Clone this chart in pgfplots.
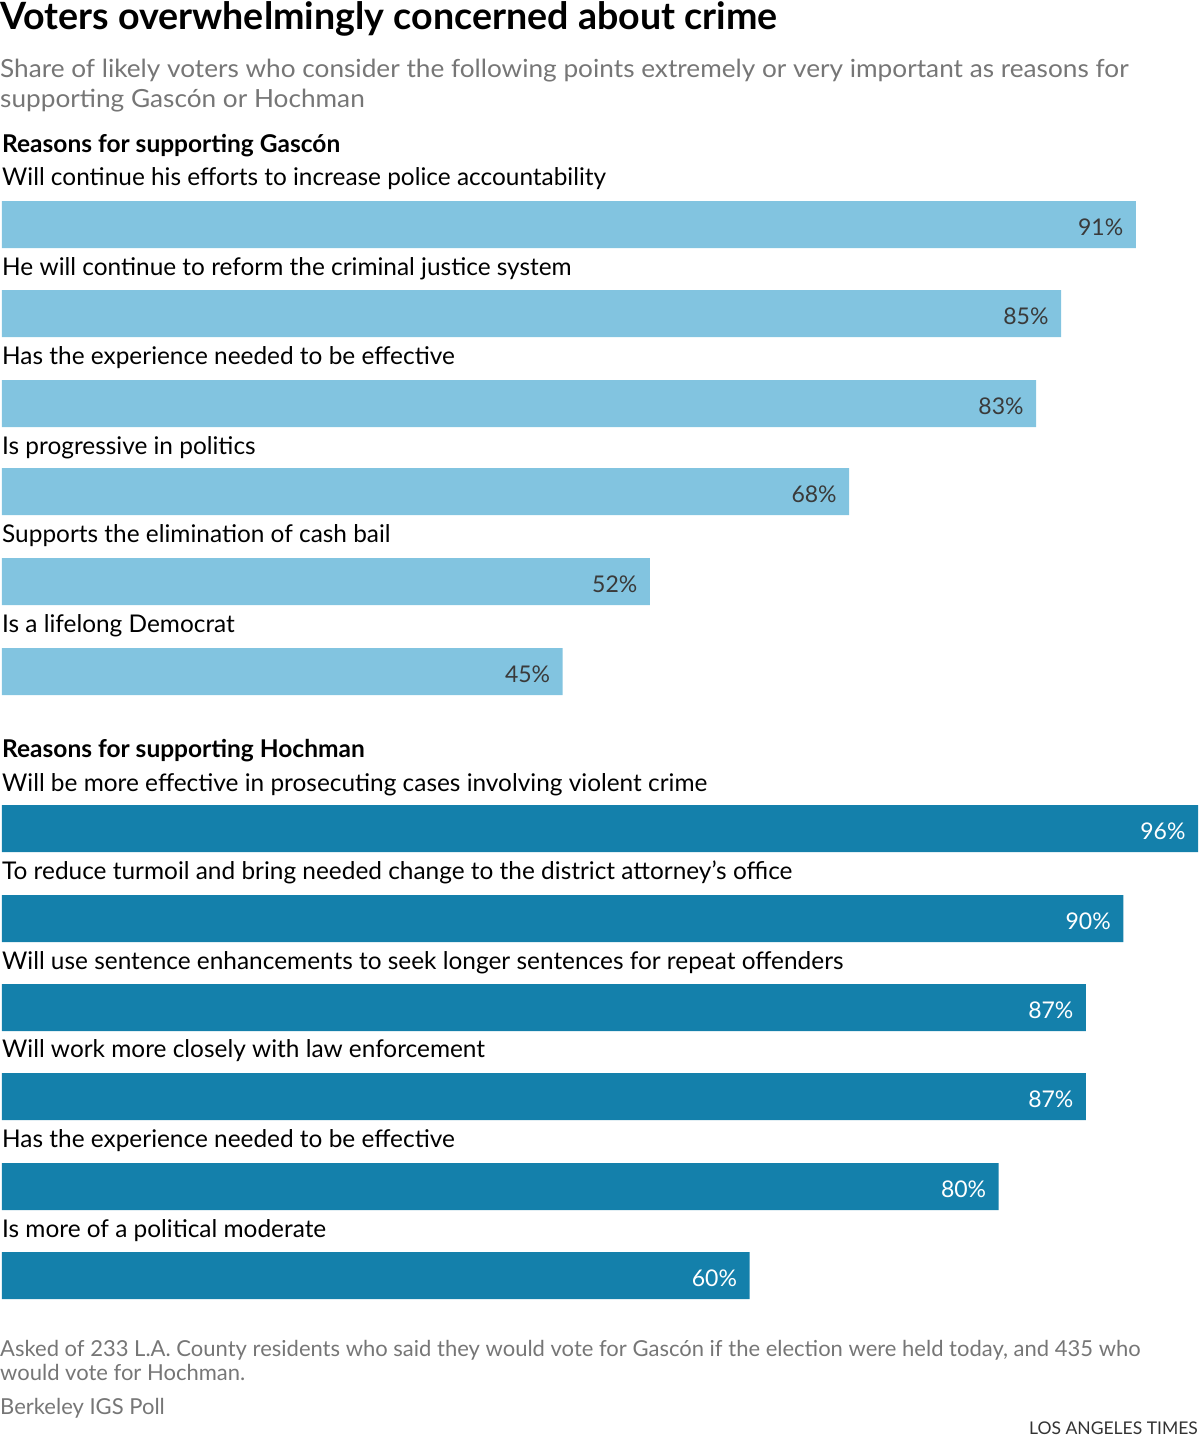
\documentclass[border=0pt]{standalone}
\usepackage{pgfplots}
\pgfplotsset{compat=1.18}
\usepackage{graphicx}
\usepackage{fontspec}
\setmainfont{Lato}
\definecolor{lightbar}{HTML}{82C4E0}
\definecolor{darkbar}{HTML}{1480AB}
\definecolor{subgray}{HTML}{767676}
\definecolor{valgray}{HTML}{3A3A3A}
\begin{document}
\begin{tikzpicture}
\begin{axis}[
  scale only axis, width=1200pt, height=1444pt,
  xmin=-0.1605, xmax=96.16, ymin=0, ymax=1444, y dir=reverse,
  axis lines=none, clip=false,
  xbar, bar width=47pt, bar shift=0pt,
  point meta=x,
  nodes near coords={\pgfmathprintnumber[assume math mode=true]{\pgfplotspointmeta}\%},
  every node near coord/.append style={anchor=east, xshift=-9pt, yshift=-2.5pt, font=\fontsize{23}{26}\selectfont},
]
\path (axis cs:-0.1605,0) rectangle (axis cs:96.16,1444);
\addplot[fill=lightbar, draw=none, nodes near coords style={text=valgray}] coordinates {
(91,224.5) (85,313.5) (83,403.5) (68,491.5) (52,581.5) (45,671.5)};
\addplot[fill=darkbar, draw=none, nodes near coords style={text=white}] coordinates {
(96,828.5) (90,918.5) (87,1007.5) (87,1096.5) (80,1186.5) (60,1275.5)};

% title & subtitle
\node[anchor=base west, inner sep=0pt] at (axis cs:-0.1605,29) {\fontsize{37.6}{42}\selectfont\bfseries Voters overwhelmingly concerned about crime};
\node[anchor=base west, inner sep=0pt, text=subgray] at (axis cs:-0.1605,77) {\scalebox{1.048}[1]{\fontsize{25}{28}\selectfont Share of likely voters who consider the following points extremely or very important as reasons for}};
\node[anchor=base west, inner sep=0pt, text=subgray] at (axis cs:-0.1605,107) {\scalebox{1.048}[1]{\fontsize{25}{28}\selectfont supporting Gascón or Hochman}};

% section headers
\node[anchor=base west, inner sep=0pt] at (axis cs:0,152) {\fontsize{24.5}{26}\selectfont\bfseries Reasons for supporting Gascón};
\node[anchor=base west, inner sep=0pt] at (axis cs:0,757) {\fontsize{24.5}{26}\selectfont\bfseries Reasons for supporting Hochman};

% category labels
\begin{scope}[every node/.style={anchor=base west, inner sep=0pt, font=\fontsize{24.4}{26}\selectfont}]
\node at (axis cs:0,185) {Will continue his efforts to increase police accountability};
\node at (axis cs:0,275) {He will continue to reform the criminal justice system};
\node at (axis cs:0,364) {Has the experience needed to be effective};
\node at (axis cs:0,454) {Is progressive in politics};
\node at (axis cs:0,542) {Supports the elimination of cash bail};
\node at (axis cs:0,632) {Is a lifelong Democrat};
\node at (axis cs:0,791) {Will be more effective in prosecuting cases involving violent crime};
\node at (axis cs:0,879) {To reduce turmoil and bring needed change to the district attorney’s office};
\node at (axis cs:0,969) {Will use sentence enhancements to seek longer sentences for repeat offenders};
\node at (axis cs:0,1057) {Will work more closely with law enforcement};
\node at (axis cs:0,1147) {Has the experience needed to be effective};
\node at (axis cs:0,1237) {Is more of a political moderate};
\end{scope}

% footer
\begin{scope}[every node/.style={anchor=base west, inner sep=0pt, text=subgray, font=\fontsize{22}{24}\selectfont}]
\node at (axis cs:-0.1605,1356) {Asked of 233 L.A. County residents who said they would vote for Gascón if the election were held today, and 435 who};
\node at (axis cs:-0.1605,1380) {would vote for Hochman.};
\node at (axis cs:-0.1605,1414) {Berkeley IGS Poll};
\end{scope}
\node[anchor=base east, inner sep=0pt, text=black!80, font=\fontsize{17.5}{20}\selectfont] at (axis cs:96.0,1434) {LOS ANGELES TIMES};
\end{axis}
\end{tikzpicture}
\end{document}
